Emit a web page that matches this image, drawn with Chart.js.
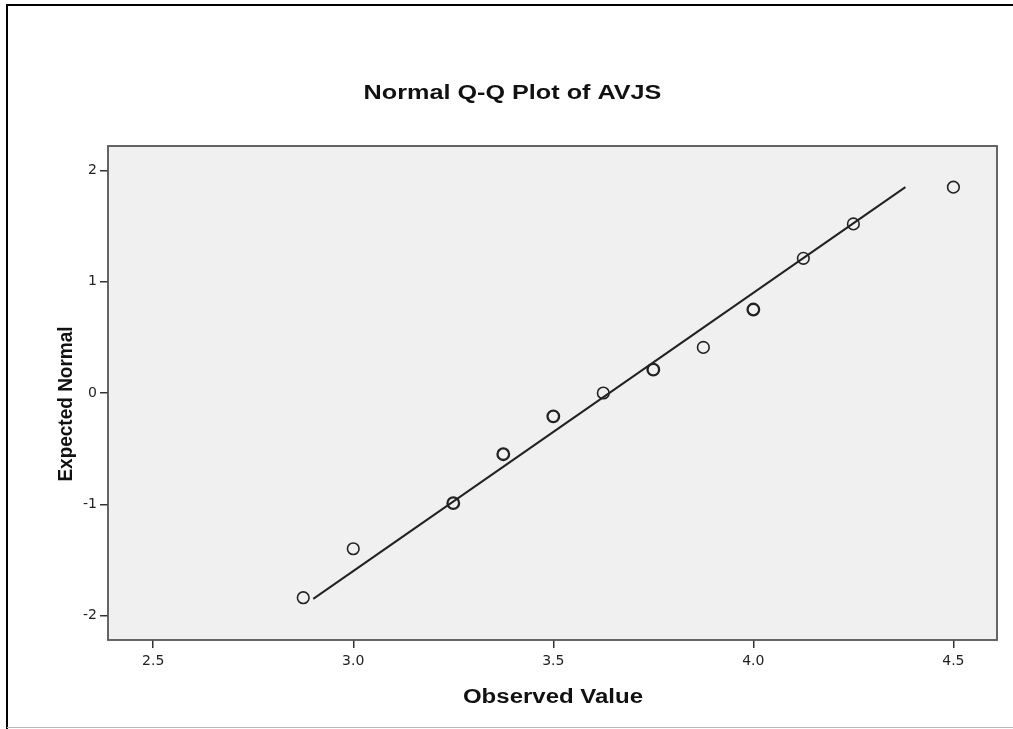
<!DOCTYPE html>
<html>
<head>
<meta charset="utf-8">
<title>Normal Q-Q Plot of AVJS</title>
<script src="https://cdn.jsdelivr.net/npm/chart.js@4.4.1/dist/chart.umd.min.js"></script>
<style>
  html, body { margin: 0; padding: 0; background: #fff; }
  #wrap { width: 1013px; height: 729px; }
</style>
</head>
<body>
<div id="wrap"><canvas id="qqChart" width="1013" height="729"></canvas></div>
<script>
// AVJS observed values and their expected normal scores
const observed = [2.875, 3.0, 3.25, 3.375, 3.5, 3.625, 3.75, 3.875, 4.0, 4.125, 4.25, 4.5];
const expectedNormal = [-1.84, -1.40, -0.99, -0.55, -0.21, 0.0, 0.21, 0.41, 0.75, 1.21, 1.52, 1.85];
// number of cases sharing each value (ties overplot and look darker)
const caseCounts = [1, 1, 2, 2, 2, 1, 2, 1, 2, 1, 1, 1];

// reference line endpoints
const lineX = [2.90, 4.38];
const lineY = [-1.85, 1.85];

const xTicks = [2.5, 3.0, 3.5, 4.0, 4.5];
const yTicks = [-2, -1, 0, 1, 2];

const points = observed.map((x, i) => ({ x: x, y: expectedNormal[i] }));
const refLine = lineX.map((x, i) => ({ x: x, y: lineY[i] }));

const tickFont = { family: '"DejaVu Sans", sans-serif', size: 14 };
const inkColor = '#222';

// text drawn slightly wider than tall, like the SPSS export
function wideText(ctx, text, x, y, font, sx) {
    ctx.save();
    ctx.translate(x, y);
    ctx.scale(sx, 1);
    ctx.font = font;
    ctx.fillStyle = '#111';
    ctx.textAlign = 'center';
    ctx.textBaseline = 'alphabetic';
    ctx.fillText(text, 0, 0);
    ctx.restore();
}

const frame = {
    id: 'frame',
    beforeDraw(chart) {
        const { ctx, chartArea: a } = chart;
        ctx.save();
        ctx.fillStyle = '#fff';
        ctx.fillRect(0, 0, chart.width, chart.height);
        ctx.fillStyle = '#f0f0f0';
        ctx.fillRect(a.left, a.top, a.right - a.left, a.bottom - a.top);

        // outer page border
        ctx.strokeStyle = '#000';
        ctx.lineWidth = 2;
        ctx.beginPath();
        ctx.moveTo(7, 729);
        ctx.lineTo(7, 5);
        ctx.lineTo(1013, 5);
        ctx.stroke();
        ctx.strokeStyle = '#b8b8b8';
        ctx.lineWidth = 1;
        ctx.beginPath();
        ctx.moveTo(7, 727.5);
        ctx.lineTo(1013, 727.5);
        ctx.stroke();
        ctx.restore();
    },
    afterDatasetsDraw(chart) {
        const { ctx, chartArea: a } = chart;
        ctx.save();
        ctx.strokeStyle = '#555';
        ctx.lineWidth = 1.8;
        ctx.strokeRect(a.left, a.top, a.right - a.left, a.bottom - a.top);
        ctx.restore();
    },
    afterDraw(chart) {
        const { ctx } = chart;
        wideText(ctx, 'Normal Q-Q Plot of AVJS', 512.5, 99, 'bold 21px "Liberation Sans", Arial, sans-serif', 1.2);
        wideText(ctx, 'Observed Value', 553, 703, 'bold 20px "Liberation Sans", Arial, sans-serif', 1.2);

        ctx.save();
        ctx.translate(72, 404);
        ctx.rotate(-Math.PI / 2);
        ctx.scale(1, 1.1);
        ctx.font = 'bold 19px "Liberation Sans", Arial, sans-serif';
        ctx.fillStyle = '#111';
        ctx.textAlign = 'center';
        ctx.textBaseline = 'alphabetic';
        ctx.fillText('Expected Normal', 0, 0);
        ctx.restore();
    }
};

const ctx = document.getElementById('qqChart').getContext('2d');
const qqChart = new Chart(ctx, {
    type: 'scatter',
    data: {
        datasets: [{
            label: 'Observed',
            data: points,
            pointStyle: 'circle',
            pointRadius: 5.8,
            pointBackgroundColor: 'rgba(0,0,0,0)',
            pointBorderColor: inkColor,
            pointBorderWidth: c => (caseCounts[c.dataIndex] > 1 ? 2.3 : 1.6),
            showLine: false,
            order: 1
        }, {
            label: 'Reference',
            data: refLine,
            showLine: true,
            borderColor: inkColor,
            borderWidth: 2,
            pointRadius: 0,
            order: 2
        }]
    },
    options: {
        responsive: false,
        animation: false,
        devicePixelRatio: 1,
        layout: {
            padding: { top: 146, right: 16, bottom: 0, left: 0 }
        },
        plugins: {
            legend: { display: false },
            tooltip: { enabled: false }
        },
        scales: {
            x: {
                type: 'linear',
                min: 2.387,
                max: 4.609,
                afterBuildTicks: s => { s.ticks = xTicks.map(v => ({ value: v })); },
                afterFit: s => { s.height = 89; },
                grid: {
                    drawOnChartArea: false,
                    drawTicks: true,
                    tickLength: 8,
                    color: '#333',
                    lineWidth: 1.5
                },
                border: { display: false },
                ticks: {
                    font: tickFont,
                    color: '#222',
                    padding: 5,
                    maxRotation: 0,
                    callback: v => v.toFixed(1)
                }
            },
            y: {
                type: 'linear',
                min: -2.22,
                max: 2.22,
                afterBuildTicks: s => { s.ticks = yTicks.map(v => ({ value: v })); },
                afterFit: s => { s.width = 108; },
                grid: {
                    drawOnChartArea: false,
                    drawTicks: true,
                    tickLength: 8,
                    color: '#333',
                    lineWidth: 1.5
                },
                border: { display: false },
                ticks: {
                    font: tickFont,
                    color: '#222',
                    padding: 3,
                    callback: v => String(v)
                }
            }
        }
    },
    plugins: [frame]
});
</script>
</body>
</html>
